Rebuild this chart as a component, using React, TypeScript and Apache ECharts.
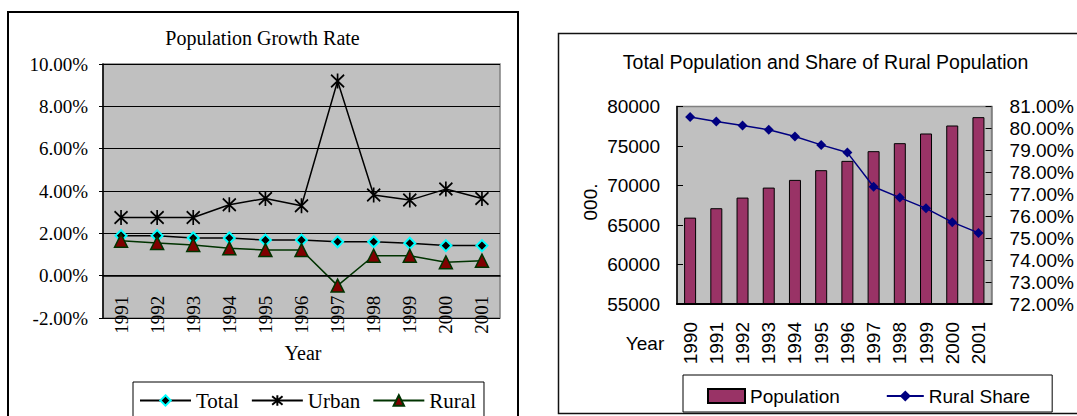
import React, { useEffect, useRef } from "react";
import * as echarts from "echarts";

// Population growth rate (% per year)
const growthYears = ["1991", "1992", "1993", "1994", "1995", "1996", "1997", "1998", "1999", "2000", "2001"];
const totalGrowth = [1.89, 1.89, 1.78, 1.78, 1.68, 1.68, 1.6, 1.6, 1.53, 1.42, 1.42];
const urbanGrowth = [2.75, 2.75, 2.75, 3.35, 3.65, 3.3, 9.2, 3.81, 3.57, 4.09, 3.65];
const ruralGrowth = [1.65, 1.54, 1.45, 1.29, 1.21, 1.21, -0.47, 0.94, 0.94, 0.63, 0.71];

// Total population ('000) and rural share (%)
const popYears = ["1990", "1991", "1992", "1993", "1994", "1995", "1996", "1997", "1998", "1999", "2000", "2001"];
const population = [65935, 67126, 68470, 69736, 70712, 71939, 73119, 74346, 75359, 76583, 77596, 78653];
const ruralShare = [80.52, 80.32, 80.13, 79.94, 79.63, 79.25, 78.9, 77.34, 76.85, 76.36, 75.73, 75.24];

const SERIF = "'Liberation Serif', 'DejaVu Serif', serif";
const SANS = "'Liberation Sans', Arial, sans-serif";

const ASTERISK = "path://M0,1L10,11M10,1L0,11M5,0L5,12";

// growth chart plot box
const G_TOP = 64;
const G_HEIGHT = 254;
const G_MIN = -2;
const G_MAX = 10;

export default function App() {
  const ref = useRef<HTMLDivElement>(null);

  useEffect(() => {
    if (!ref.current) return;
    const chart = echarts.init(ref.current, undefined, { renderer: "svg" });

    const pct = (v: number) => `${v.toFixed(2)}%`;
    // distance between the plot bottom and the zero line of the growth chart
    const zeroLift = (G_HEIGHT * (0 - G_MIN)) / (G_MAX - G_MIN);

    chart.setOption({
      animation: false,
      backgroundColor: "#ffffff",
      graphic: [
        // chart frames
        {
          type: "rect",
          shape: { x: 8, y: 12, width: 510, height: 430 },
          style: { fill: "none", stroke: "#000", lineWidth: 2 },
          z: 0,
        },
        {
          type: "rect",
          shape: { x: 558.5, y: 33.5, width: 560, height: 380 },
          style: { fill: "none", stroke: "#111", lineWidth: 1.5 },
          z: 0,
        },
        {
          type: "text",
          x: 262.5,
          y: 38,
          style: { text: "Population Growth Rate", font: `20px ${SERIF}`, fill: "#000", align: "center", verticalAlign: "middle" },
        },
        {
          type: "text",
          x: 825.5,
          y: 62,
          style: { text: "Total Population and Share of Rural Population", font: `19.5px ${SANS}`, fill: "#000", align: "center", verticalAlign: "middle" },
        },
        {
          type: "text",
          x: 303,
          y: 353,
          style: { text: "Year", font: `20px ${SERIF}`, fill: "#000", align: "center", verticalAlign: "middle" },
        },
        {
          type: "text",
          x: 645,
          y: 343,
          style: { text: "Year", font: `19px ${SANS}`, fill: "#000", align: "center", verticalAlign: "middle" },
        },
        {
          type: "text",
          x: 590,
          y: 202,
          rotation: Math.PI / 2,
          style: { text: "000.", font: `19px ${SANS}`, fill: "#000", align: "center", verticalAlign: "middle" },
        },
      ],
      grid: [
        {
          left: 103,
          top: G_TOP,
          width: 397,
          height: G_HEIGHT,
          show: true,
          backgroundColor: "#C0C0C0",
          borderColor: "#808080",
          borderWidth: 1.5,
        },
        {
          left: 677,
          top: 106.5,
          width: 315,
          height: 197.5,
          show: true,
          backgroundColor: "#C0C0C0",
          borderColor: "#808080",
          borderWidth: 1.5,
        },
      ],
      xAxis: [
        {
          type: "category",
          gridIndex: 0,
          data: growthYears,
          boundaryGap: true,
          offset: -zeroLift,
          axisLine: { onZero: false, lineStyle: { color: "#000", width: 1.5 } },
          axisTick: { inside: true, length: 6, lineStyle: { color: "#000" } },
          axisLabel: { rotate: 90, margin: 20, color: "#000", fontFamily: SERIF, fontSize: 19 },
          splitLine: { show: false },
          z: 6,
        },
        {
          type: "category",
          gridIndex: 1,
          data: popYears,
          boundaryGap: true,
          axisLine: { lineStyle: { color: "#000", width: 2 } },
          axisTick: { inside: true, length: 6, lineStyle: { color: "#000" } },
          axisLabel: { rotate: 90, margin: 18, color: "#000", fontFamily: SANS, fontSize: 19 },
          splitLine: { show: false },
          z: 6,
        },
      ],
      yAxis: [
        {
          type: "value",
          gridIndex: 0,
          min: G_MIN,
          max: G_MAX,
          interval: 2,
          axisLine: { show: true, lineStyle: { color: "#000", width: 1.5 } },
          axisTick: { show: true, length: 4, lineStyle: { color: "#000" } },
          axisLabel: { formatter: pct, color: "#000", fontFamily: SERIF, fontSize: 19, margin: 15, padding: [9, 0, 0, 0] },
          splitLine: { show: true, lineStyle: { color: "#000", width: 1 } },
        },
        {
          type: "value",
          gridIndex: 1,
          position: "left",
          min: 55000,
          max: 80000,
          interval: 5000,
          axisLine: { show: true, lineStyle: { color: "#000", width: 1.5 } },
          axisTick: { show: true, inside: true, length: 6, lineStyle: { color: "#000" } },
          axisLabel: {
            formatter: (v: number) => String(v),
            color: "#000",
            fontFamily: SANS,
            fontSize: 19,
            margin: 17,
            padding: [8, 0, 0, 0],
          },
          splitLine: { show: false },
        },
        {
          type: "value",
          gridIndex: 1,
          position: "right",
          min: 72,
          max: 81,
          interval: 1,
          axisLine: { show: true, lineStyle: { color: "#808080", width: 1.5 } },
          axisTick: { show: true, inside: true, length: 6, lineStyle: { color: "#000" } },
          axisLabel: { formatter: pct, color: "#000", fontFamily: SANS, fontSize: 19, margin: 18, padding: [8, 0, 0, 0] },
          splitLine: { show: false },
        },
      ],
      legend: [
        {
          data: ["Total", "Urban", "Rural"],
          left: 133,
          top: 382,
          orient: "horizontal",
          itemWidth: 51,
          itemHeight: 13,
          itemGap: 12,
          padding: [8, 8, 12, 6],
          backgroundColor: "#fff",
          borderColor: "#000",
          borderWidth: 1,
          borderRadius: 0,
          textStyle: { color: "#000", fontFamily: SERIF, fontSize: 21, lineHeight: 20 },
        },
        {
          data: [{ name: "Population", icon: "rect" }, { name: "Rural Share" }],
          left: 683,
          top: 375,
          orient: "horizontal",
          itemWidth: 37,
          itemHeight: 14,
          itemGap: 46,
          padding: [11, 22, 6, 24],
          backgroundColor: "#fff",
          borderColor: "#000",
          borderWidth: 1,
          borderRadius: 0,
          textStyle: { color: "#000", fontFamily: SANS, fontSize: 19, lineHeight: 20 },
        },
      ],
      series: [
        {
          name: "Total",
          type: "line",
          xAxisIndex: 0,
          yAxisIndex: 0,
          data: totalGrowth,
          symbol: "diamond",
          symbolSize: 11,
          lineStyle: { color: "#000", width: 1.5 },
          itemStyle: { color: "#000", borderColor: "#00FFFF", borderWidth: 2 },
          z: 4,
        },
        {
          name: "Urban",
          type: "line",
          xAxisIndex: 0,
          yAxisIndex: 0,
          data: urbanGrowth,
          symbol: ASTERISK,
          symbolSize: [13, 15],
          lineStyle: { color: "#000", width: 1.5 },
          itemStyle: { color: "#000", borderColor: "#000", borderWidth: 1.8 },
          z: 3,
        },
        {
          name: "Rural",
          type: "line",
          xAxisIndex: 0,
          yAxisIndex: 0,
          data: ruralGrowth,
          symbol: "triangle",
          symbolSize: 13,
          lineStyle: { color: "#003300", width: 1.5 },
          itemStyle: { color: "#800000", borderColor: "#003300", borderWidth: 1.5 },
          z: 5,
        },
        {
          name: "Population",
          type: "bar",
          xAxisIndex: 1,
          yAxisIndex: 1,
          data: population,
          barWidth: 12,
          itemStyle: { color: "#993366", borderColor: "#000", borderWidth: 1 },
          z: 2,
        },
        {
          name: "Rural Share",
          type: "line",
          xAxisIndex: 1,
          yAxisIndex: 2,
          data: ruralShare,
          symbol: "diamond",
          symbolSize: 10,
          lineStyle: { color: "#000080", width: 1.5 },
          itemStyle: { color: "#000080", borderColor: "#000080", borderWidth: 0 },
          z: 4,
        },
      ],
    });

    return () => chart.dispose();
  }, []);

  return (
    <div
      ref={ref}
      style={{ position: "absolute", left: 0, top: 0, width: 1077, height: 416 }}
    />
  );
}
